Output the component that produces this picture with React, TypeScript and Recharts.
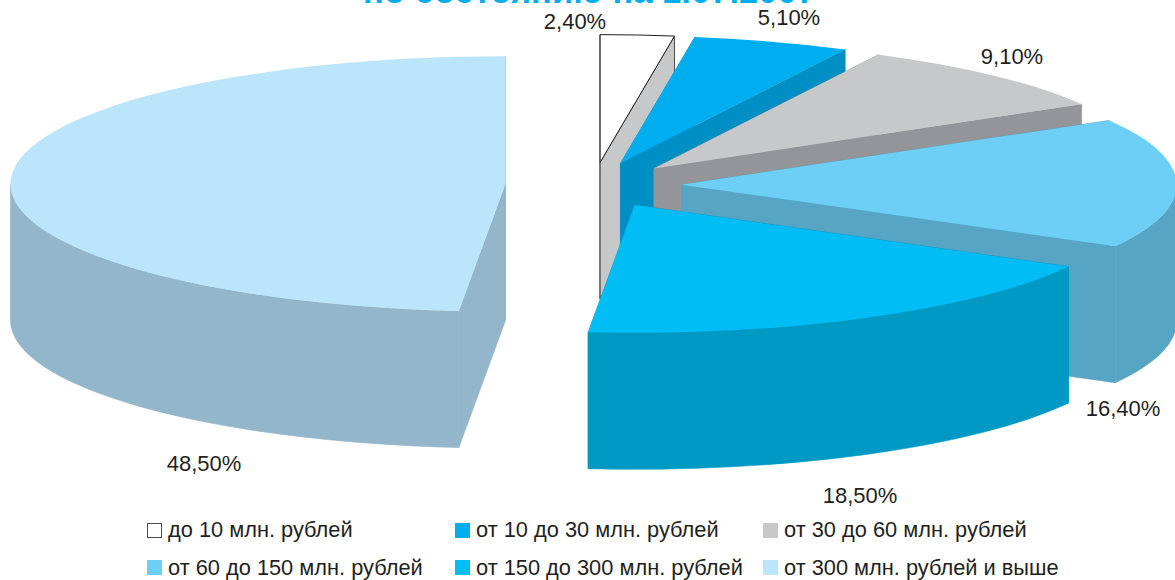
import React from 'react'
import { PieChart, Pie, Legend } from 'recharts'

const categories = [
  'до 10 млн. рублей',
  'от 10 до 30 млн. рублей',
  'от 30 до 60 млн. рублей',
  'от 60 до 150 млн. рублей',
  'от 150 до 300 млн. рублей',
  'от 300 млн. рублей и выше',
]
const shares = [2.4, 5.1, 9.1, 16.4, 18.5, 48.5]

const topColors = ['#ffffff', '#00aeef', '#c7c8ca', '#6dcff6', '#00bdf6', '#bbe5fa']
const wallColors = ['#c7c8ca', '#008fc5', '#939598', '#57a5c5', '#0099c4', '#94b6ca']
const labelAnchors = [
  [575, 29],
  [789, 25],
  [1012, 64],
  [1123, 416],
  [860, 503],
  [204, 471],
]

const rows = categories.map((name, i) => ({
  name,
  value: shares[i],
  fill: topColors[i],
  wall: wallColors[i],
}))

// the picture is a tilted 3D pie, so every sector is an ellipse with a thick edge
const SQUASH = 0.258
const DEPTH = 136.5
const EXPLODE = 0.178
const RAD = Math.PI / 180

const Slice3D = (props: any) => {
  const { cx, cy, outerRadius: r, startAngle, endAngle, midAngle, fill, payload } = props
  const ry = r * SQUASH
  const ox = cx + r * EXPLODE * Math.cos(midAngle * RAD)
  const oy = cy - ry * EXPLODE * Math.sin(midAngle * RAD)
  const pt = (a: number, dy = 0) =>
    `${ox + r * Math.cos(a * RAD)} ${oy - ry * Math.sin(a * RAD) + dy}`
  const large = Math.abs(startAngle - endAngle) > 180 ? 1 : 0
  const outlined = fill === '#ffffff'
  const edge = outlined ? '#4d4d4f' : payload.wall
  const edgeWidth = outlined ? 1 : 0.6
  const cut = (a: number) =>
    `M${ox} ${oy} L${pt(a)} L${pt(a, DEPTH)} L${ox} ${oy + DEPTH} Z`

  const hi = Math.min(startAngle, 0)
  const lo = Math.max(endAngle, -180)

  return (
    <g>
      <path d={cut(startAngle)} fill={payload.wall} stroke={edge} strokeWidth={edgeWidth} />
      <path d={cut(endAngle)} fill={payload.wall} stroke={edge} strokeWidth={edgeWidth} />
      {hi > lo && (
        <path
          d={`M${pt(hi)} A${r} ${ry} 0 0 1 ${pt(lo)} L${pt(lo, DEPTH)} A${r} ${ry} 0 0 0 ${pt(hi, DEPTH)} Z`}
          fill={payload.wall}
          stroke={payload.wall}
          strokeWidth={0.6}
        />
      )}
      <path
        d={`M${ox} ${oy} L${pt(startAngle)} A${r} ${ry} 0 ${large} 1 ${pt(endAngle)} Z`}
        fill={fill}
        stroke={outlined ? '#231f20' : 'none'}
      />
    </g>
  )
}

const renderLabel = (props: any) => {
  const [x, y] = labelAnchors[props.index]
  return (
    <text x={x} y={y} textAnchor="middle" fontSize={22} fill="#231f20" fontFamily="Liberation Sans">
      {`${props.value.toFixed(2).replace('.', ',')}%`}
    </text>
  )
}

const renderLegend = (props: any) => (
  <div style={{ position: 'relative', width: 1175, height: 580 }}>
    {(props.payload ?? []).map((entry: any, i: number) => (
      <div
        key={entry.value}
        style={{
          position: 'absolute',
          left: 147 + (i % 3) * 308,
          top: 516 + Math.floor(i / 3) * 37.5,
          height: 28,
          display: 'flex',
          alignItems: 'center',
          fontFamily: 'Liberation Sans',
          fontSize: 21.8,
          color: '#231f20',
          whiteSpace: 'nowrap',
        }}
      >
        <span
          style={{
            width: 15,
            height: 15,
            marginRight: 6,
            boxSizing: 'border-box',
            background: entry.color,
            border: i === 0 ? '1px solid #4d4d4f' : 'none',
          }}
        />
        {entry.value}
      </div>
    ))}
  </div>
)

export default function App() {
  return (
    <div style={{ position: 'absolute', left: 0, top: 0, width: 1175, height: 580, overflow: 'hidden', background: '#fff' }}>
      <div
        style={{
          position: 'absolute',
          left: 2,
          width: 1175,
          top: -30,
          textAlign: 'center',
          fontFamily: 'Liberation Sans',
          fontWeight: 'bold',
          fontSize: 34.6,
          lineHeight: '42px',
          color: '#00aeef',
        }}
      >
        по состоянию на 1.07.2007
      </div>
      <PieChart width={1175} height={580} margin={{ top: 0, right: 0, bottom: 0, left: 0 }}>
        <Pie
          data={rows}
          dataKey="value"
          nameKey="name"
          cx={593.5}
          cy={185}
          innerRadius={0}
          outerRadius={495}
          startAngle={90}
          endAngle={-270}
          stroke="none"
          shape={Slice3D}
          label={renderLabel}
          labelLine={false}
          isAnimationActive={false}
        />
        <Legend
          content={renderLegend}
          itemSorter={null}
          wrapperStyle={{ left: 0, top: 0, width: 1175, height: 580 }}
        />
      </PieChart>
    </div>
  )
}
